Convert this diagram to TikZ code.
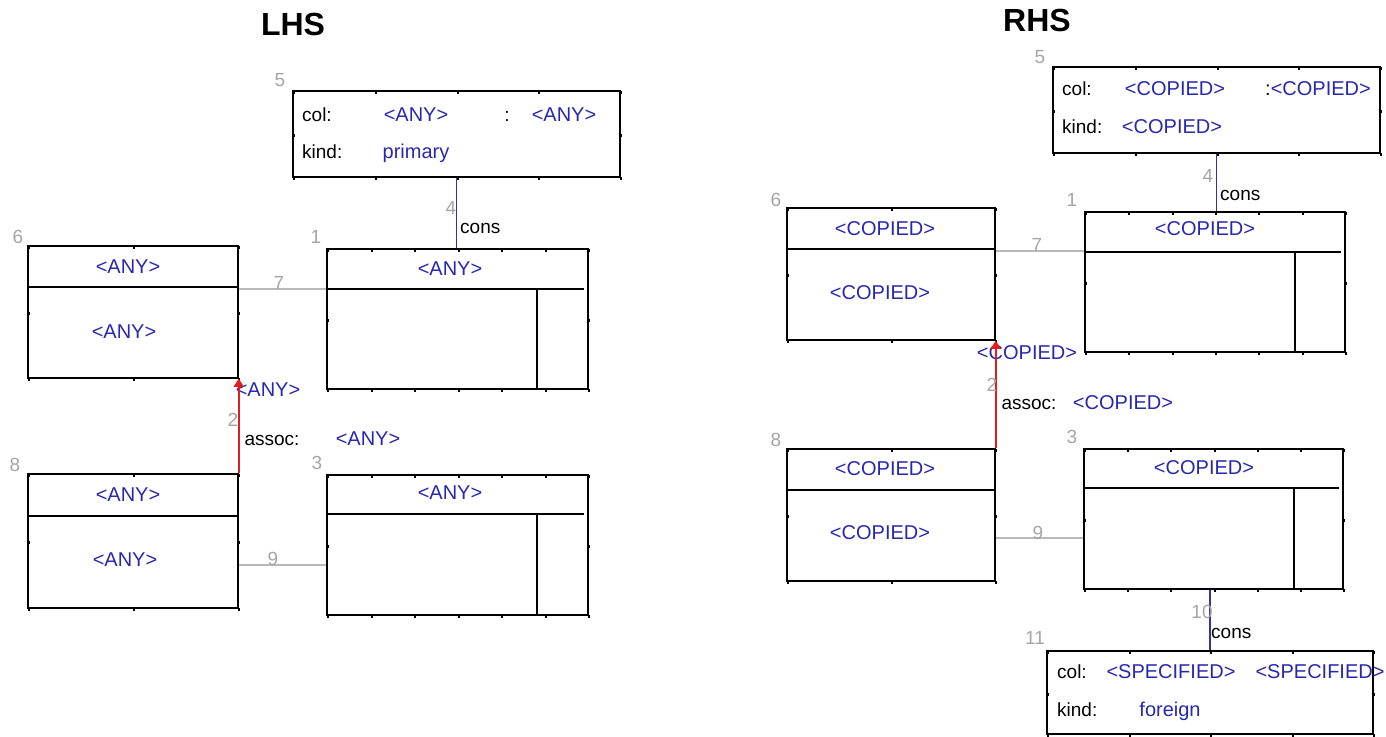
\documentclass[tikz,border=0pt]{standalone}
\usepackage{fontspec}
\setmainfont{Liberation Sans}
\usetikzlibrary{arrows.meta,fit}

\definecolor{valblue}{RGB}{40,40,175}
\definecolor{consblue}{RGB}{50,50,165}
\definecolor{assocred}{RGB}{225,30,30}
\definecolor{idxgray}{RGB}{165,165,165}
\definecolor{linkgray}{RGB}{185,185,185}

% small marks along the edges of a box: x1 y1 x2 y2 parts
\newcommand\edgeticks[5]{%
  \foreach \i in {0,...,#5}{
    \pgfmathsetmacro\tx{#1+(#3-#1)*\i/#5}
    \fill (\tx,#2) rectangle ++(2,3);
    \fill (\tx,#4) rectangle ++(2,3);}
  \fill (#1,{(#2+#4)/2}) rectangle ++(2,3);
  \fill (#3,{(#2+#4)/2}) rectangle ++(2,3);}

\begin{document}
\begin{tikzpicture}[x=1pt,y=-1pt,
  every node/.style={inner sep=0pt,text height=13pt,text depth=0pt,font=\fontsize{19}{22}\selectfont},
  box/.style={draw,line width=1.5pt,fit={#1}},
  rule/.style={line width=1.5pt},
  val/.style={text=valblue,font=\fontsize{20}{24}\selectfont},
  lbl/.style={anchor=west},
  idx/.style={text=idxgray},
  heading/.style={font=\bfseries\fontsize{32}{36}\selectfont,text height=23pt},
  cons/.style={draw=consblue,line width=1.5pt},
  assoc/.style={draw=assocred,line width=1.5pt,-{Triangle[length=8pt,width=10pt]}},
  link/.style={draw=linkgray,line width=1.2pt}]
\useasboundingbox (0,0) rectangle (1386,736);

% ---- LHS
\node[heading] (lhs) at (293,24) {LHS};

\node[idx] (i5) at (280,80) {5};
\node[box={(293,91) (620,177)}] (c5) {};
\edgeticks{293}{91}{620}{177}{4}
\node[lbl] (c5col) at (302,115) {col:};
\node[val] (c5a) at (416,115) {<ANY>};
\node (c5sep) at (507,115) {:};
\node[val] (c5b) at (564,115) {<ANY>};
\node[lbl] (c5kind) at (302,152) {kind:};
\node[val] (c5k) at (416,152) {primary};

\node[idx] (i1) at (316,237) {1};
\node[box={(327,249) (588,389)}] (t1) {};
\draw[rule] (327,289) -- (584,289) (537,289) -- (537,389);
\edgeticks{327}{249}{588}{389}{6}
\node[val] (t1n) at (450,269) {<ANY>};

\node[idx] (i6) at (18,237) {6};
\node[box={(28,246) (238,378)}] (c6) {};
\draw[rule] (28,287) -- (238,287);
\edgeticks{28}{246}{238}{378}{2}
\node[val] (c6n) at (128,267) {<ANY>};
\node[val] (c6s) at (124,332) {<ANY>};

\node[idx] (i8) at (15,465) {8};
\node[box={(28,474) (238,608)}] (c8) {};
\draw[rule] (28,516) -- (238,516);
\edgeticks{28}{474}{238}{608}{2}
\node[val] (c8n) at (128,495) {<ANY>};
\node[val] (c8s) at (125,560) {<ANY>};

\node[idx] (i3) at (317,463) {3};
\node[box={(327,475) (588,615)}] (t3) {};
\draw[rule] (327,514) -- (584,514) (537,514) -- (537,615);
\edgeticks{327}{475}{588}{615}{6}
\node[val] (t3n) at (450,493) {<ANY>};

% connectors
\draw[cons] (c5.south) -- (t1.north -| c5.south);
\node[idx] (i4) at (451,208) {4};
\node[lbl] (k4) at (460,227) {cons};

\coordinate (l7) at (0,289);
\draw[link] (c6.east |- l7) -- (t1.west |- l7);
\node[idx] (i7) at (279,283) {7};

\coordinate (l9) at (0,565);
\draw[link] (c8.east |- l9) -- (t3.west |- l9);
\node[idx] (i9) at (273,559) {9};

\node[val] (a2t) at (268,390) {<ANY>};
\draw[assoc] (c8.north east) -- (c6.south east);
\node[idx] (i2) at (233,420) {2};
\node (a2) at (272,439) {assoc:};
\node[val] (a2v) at (368,439) {<ANY>};

% ---- RHS
\node[heading] (rhs) at (1037,20) {RHS};

\node[idx] (j5) at (1040,57) {5};
\node[box={(1053,67) (1380,153)}] (r5) {};
\edgeticks{1053}{67}{1380}{153}{4}
\node[lbl] (r5col) at (1062,89) {col:};
\node[val] (r5a) at (1175,89) {<COPIED>};
\node[val] (r5b) at (1318,89) {\textcolor{black}{:}<COPIED>};
\node[lbl] (r5kind) at (1062,127) {kind:};
\node[val] (r5k) at (1172,127) {<COPIED>};

\node[idx] (j1) at (1072,200) {1};
\node[box={(1085,212) (1345,352)}] (rt1) {};
\draw[rule] (1085,252) -- (1341,252) (1295,252) -- (1295,352);
\edgeticks{1085}{212}{1345}{352}{6}
\node[val] (rt1n) at (1205,229) {<COPIED>};

\node[idx] (j6) at (776,200) {6};
\node[box={(787,208) (995,340)}] (rc6) {};
\draw[rule] (787,249) -- (995,249);
\edgeticks{787}{208}{995}{340}{2}
\node[val] (rc6n) at (885,229) {<COPIED>};
\node[val] (rc6s) at (880,293) {<COPIED>};

\node[idx] (j8) at (776,440) {8};
\node[box={(787,449) (995,581)}] (rc8) {};
\draw[rule] (787,490) -- (995,490);
\edgeticks{787}{449}{995}{581}{2}
\node[val] (rc8n) at (885,469) {<COPIED>};
\node[val] (rc8s) at (880,533) {<COPIED>};

\node[idx] (j3) at (1072,437) {3};
\node[box={(1084,449) (1343,589)}] (rt3) {};
\draw[rule] (1084,488) -- (1339,488) (1294,488) -- (1294,589);
\edgeticks{1084}{449}{1343}{589}{6}
\node[val] (rt3n) at (1204,468) {<COPIED>};

\node[idx] (j11) at (1035,638) {11};
\node[box={(1047,651) (1373,734)}] (r11) {};
\edgeticks{1047}{651}{1373}{734}{4}
\node[lbl] (r11col) at (1057,672) {col:};
\node[val] (r11a) at (1171,672) {<SPECIFIED>};
\node[val] (r11b) at (1320,672) {<SPECIFIED>};
\node[lbl] (r11kind) at (1057,710) {kind:};
\node[val] (r11k) at (1170,710) {foreign};

% connectors
\draw[cons] (r5.south) -- (rt1.north -| r5.south);
\node[idx] (j4) at (1208,176) {4};
\node[lbl] (q4) at (1220,194) {cons};

\coordinate (m7) at (0,251);
\draw[link] (rc6.east |- m7) -- (rt1.west |- m7);
\node[idx] (j7) at (1037,245) {7};

\coordinate (m9) at (0,538);
\draw[link] (rc8.east |- m9) -- (rt3.west |- m9);
\node[idx] (j9) at (1038,533) {9};

\node[val] (b2t) at (1027,353) {<COPIED>};
\draw[assoc] (rc8.north east) -- (rc6.south east);
\node[idx] (j2) at (992,385) {2};
\node (b2) at (1029,403) {assoc:};
\node[val] (b2v) at (1123,403) {<COPIED>};

\draw[cons] (rt3.south -| r11.north) -- (r11.north);
\node[idx] (j10) at (1202,612) {10};
\node[lbl] (q10) at (1211,632) {cons};
\end{tikzpicture}
\end{document}
